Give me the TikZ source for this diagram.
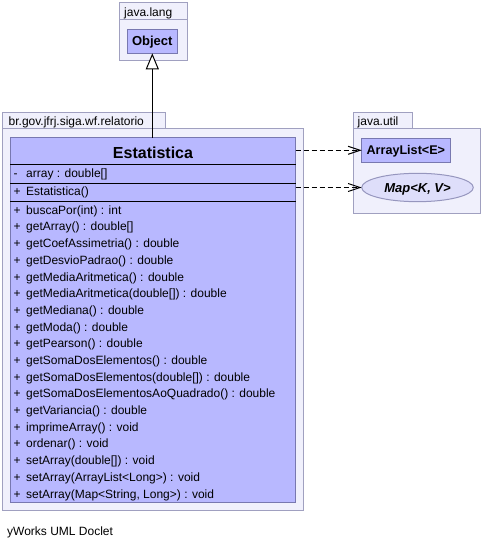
\documentclass[tikz,border=0pt]{standalone}
\usepackage{fontspec}
\setmainfont{Liberation Sans}
\usetikzlibrary{arrows.meta,shapes.geometric}
\definecolor{pkgfill}{RGB}{240,240,252}
\definecolor{pkgdraw}{RGB}{160,160,192}
\definecolor{clsfill}{RGB}{184,184,255}
\definecolor{clsdraw}{RGB}{120,120,176}
\definecolor{ellfill}{RGB}{222,222,250}
\definecolor{elldraw}{RGB}{150,150,190}
\tikzset{
  box/.style={inner sep=0pt, outer sep=0pt, line width=1bp},
  pkg/.style={box, rectangle, fill=pkgfill, draw=pkgdraw},
  cls/.style={box, rectangle, fill=clsfill, draw=clsdraw},
  iface/.style={box, ellipse, fill=ellfill, draw=elldraw},
  pkglabel/.style={inner sep=0pt, anchor=base west, font=\fontsize{12bp}{14bp}\selectfont},
  member/.style={inner sep=0pt, anchor=base west, font=\fontsize{12bp}{14bp}\selectfont},
  sep/.style={line width=1bp, black},
  inherit/.style={line width=1bp, -{Triangle[length=16bp,width=13bp,fill=white]}},
  dep/.style={line width=1bp, dash pattern=on 5bp off 3bp, -{Straight Barb[length=12bp,width=8bp]}},
}
\begin{document}
\begin{tikzpicture}[x=1bp,y=-1bp]
\useasboundingbox (0,0) rectangle (484,548);
% java.lang package
\node[pkg, minimum width=68.5bp, minimum height=17bp] (langtab) at (153.25,11.5) {};
\node[pkg, minimum width=68.5bp, minimum height=41bp] (lang) at (153.25,40.5) {};
\node[pkglabel] (langlbl) at (124,16.5) {java.lang};
\node[cls, minimum width=50bp, minimum height=24bp, text height=9.4bp, text depth=0pt,
      font=\bfseries\fontsize{13bp}{15bp}\selectfont] (object) at (152.3,41.3) {Object};
% main package
\node[pkg, minimum width=163bp, minimum height=16bp] (reltab) at (84.2,120.3) {};
\node[pkg, minimum width=300.6bp, minimum height=382bp] (rel) at (153,319.3) {};
\node[pkglabel] (rellbl) at (8.5,125.5) {br.gov.jfrj.siga.wf.relatorio};
% java.util package
\node[pkg, minimum width=59.4bp, minimum height=16bp] (utiltab) at (383,120.3) {};
\node[pkg, minimum width=127.4bp, minimum height=85bp] (util) at (417,170.8) {};
\node[pkglabel] (utillbl) at (357.5,125.5) {java.util};
\node[cls, minimum width=88.3bp, minimum height=24bp, text height=9.1bp, text depth=0pt,
      font=\bfseries\fontsize{12.6bp}{15bp}\selectfont] (arraylist) at (405.85,150.3) {ArrayList<E>};
\node[iface, minimum width=111.6bp, minimum height=28.4bp, text height=9.4bp, text depth=0pt,
      font=\bfseries\itshape\fontsize{13bp}{15bp}\selectfont] (map) at (417.5,187.5) {Map<K, V>};
% class Estatistica
\node[cls, minimum width=285.4bp, minimum height=364.6bp] (estat) at (153,320) {};
\node[inner sep=0pt, anchor=base, font=\bfseries\fontsize{16bp}{18bp}\selectfont] (title) at (153,158.3) {Estatistica};
\coordinate (s1) at (10.3,165);
\coordinate (s2) at (10.3,183.3);
\coordinate (s3) at (10.3,201.5);
\foreach \s in {s1,s2,s3} \draw[sep] (\s) -- (\s -| estat.east);
\node[member] (vf) at (13.5,177.6) {-};
\node[member] (f1) at (26,177.6) {array : double[]};
\node[member] (vc) at (13.5,195.9) {+};
\node[member] (c1) at (26,195.9) {Estatistica()};
\foreach \t [count=\i from 0] in {
  {buscaPor(int) : int},
  {getArray() : double[]},
  {getCoefAssimetria() : double},
  {getDesvioPadrao() : double},
  {getMediaAritmetica() : double},
  {getMediaAritmetica(double[]) : double},
  {getMediana() : double},
  {getModa() : double},
  {getPearson() : double},
  {getSomaDosElementos() : double},
  {getSomaDosElementos(double[]) : double},
  {getSomaDosElementosAoQuadrado() : double},
  {getVariancia() : double},
  {imprimeArray() : void},
  {ordenar() : void},
  {setArray(double[]) : void},
  {setArray(ArrayList<Long>) : void},
  {setArray(Map<String, Long>) : void}} {
  \node[member] (v\i) at (13.5,214.3+16.69*\i) {+};
  \node[member] (m\i) at (26,214.3+16.69*\i) {\t};
}
% connectors
\draw[inherit] (estat.north -| object.south) -- (object.south);
\draw[dep] (arraylist.west -| estat.east) -- (arraylist.west);
\draw[dep] (map.west -| estat.east) -- (map.west);
% footer
\node[member] (footer) at (7,535) {yWorks UML Doclet};
\end{tikzpicture}
\end{document}
